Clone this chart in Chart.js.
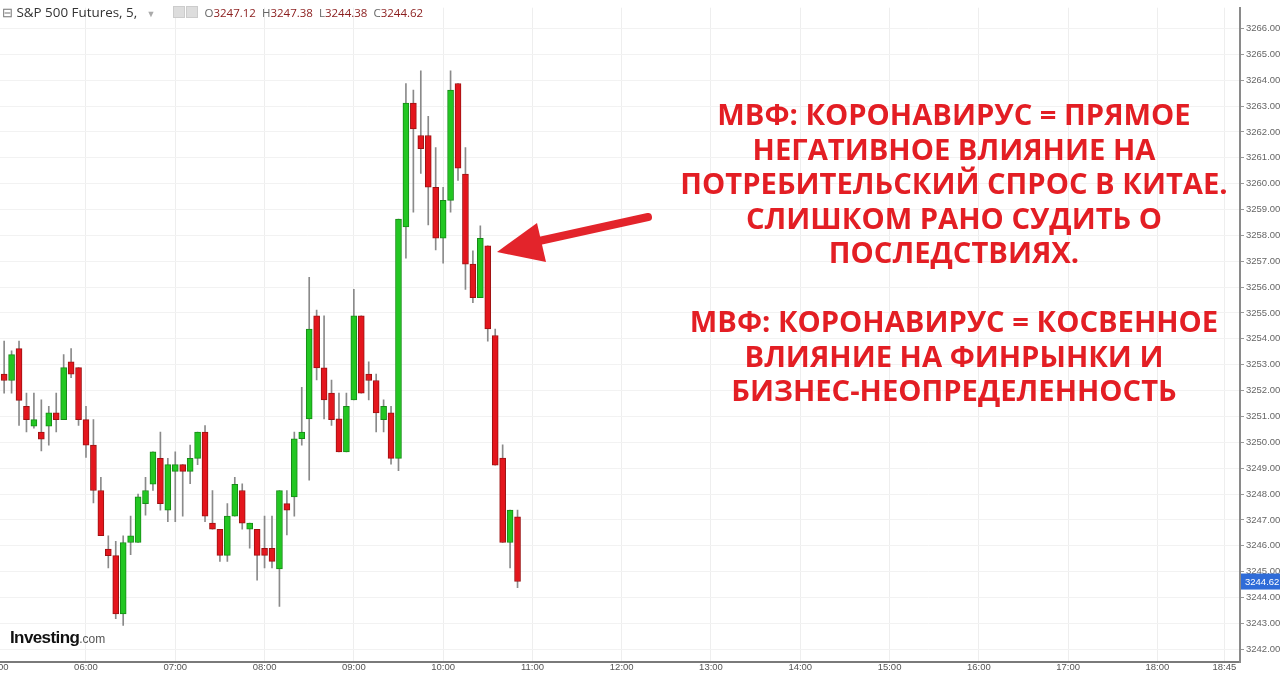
<!DOCTYPE html>
<html>
<head>
<meta charset="utf-8">
<script src="https://cdn.jsdelivr.net/npm/chart.js@4.4.1/dist/chart.umd.min.js"></script>
<style>
  html, body { margin: 0; padding: 0; background: #fff; overflow: hidden; }
  body { width: 1280px; height: 674px; position: relative; }
  #wrap { position: absolute; left: -20px; top: 0; width: 1300px; height: 674px; }
  #hdr { position: absolute; left: 2px; top: 3px; font: 13.4px "Open Sans", sans-serif; color: #333; white-space: nowrap; }
  #hdr .k { color: #666; margin-left: 6px; font-size: 11.5px; }
  #hdr .v { color: #8a1c1c; font-size: 11.5px; }
  #hdr .k:first-of-type { margin-left: 4px; }
  #hdr .ic { display: inline-block; width: 10px; height: 10px; background: #ddd; border: 1px solid #ccc; vertical-align: -1px; margin-right: 1px; }
  #hdr .dd { color: #aaa; font-size: 9px; margin: 0 17px 0 6px; }
  #logo { position: absolute; left: 10px; top: 628px; white-space: nowrap; }
  #logo b { font: bold 17px "Liberation Sans", Arial, sans-serif; color: #111; letter-spacing: -0.6px; }
  #logo span { font: 12px "Liberation Sans", Arial, sans-serif; color: #555; }
  #note { position: absolute; left: 604px; width: 700px; top: 97px; text-align: center;
          font: bold 29.2px "Open Sans", sans-serif; color: #e31e24; line-height: 34.5px; }
  #arrow { position: absolute; left: 0; top: 0; }
</style>
</head>
<body>
<div id="wrap"><canvas id="chart" width="1300" height="674"></canvas></div>
<div id="hdr"><span style="color:#777">&#8863;</span> S&amp;P 500 Futures, 5, <span class="dd">&#9660;</span><span class="ic"></span><span class="ic"></span><span class="k">O</span><span class="v">3247.12</span><span class="k">H</span><span class="v">3247.38</span><span class="k">L</span><span class="v">3244.38</span><span class="k">C</span><span class="v">3244.62</span></div>
<div id="logo"><b>Investing</b><span>.com</span></div>
<div id="note">МВФ: КОРОНАВИРУС = ПРЯМОЕ<br>НЕГАТИВНОЕ ВЛИЯНИЕ НА<br>ПОТРЕБИТЕЛЬСКИЙ СПРОС В КИТАЕ.<br>СЛИШКОМ РАНО СУДИТЬ О<br>ПОСЛЕДСТВИЯХ.<br><br>МВФ: КОРОНАВИРУС = КОСВЕННОЕ<br>ВЛИЯНИЕ НА ФИНРЫНКИ И<br>БИЗНЕС-НЕОПРЕДЕЛЕННОСТЬ</div>
<svg id="arrow" width="1280" height="674">
  <line x1="648" y1="217" x2="530" y2="243" stroke="#e3242b" stroke-width="8" stroke-linecap="round"/>
  <polygon points="497,252 537,223 546,262" fill="#e3242b"/>
</svg>
<script>
// 5-minute candles, S&P 500 futures
const times = [
    '05:05', '05:10', '05:15', '05:20', '05:25', '05:30', '05:35', '05:40', '05:45', '05:50',
    '05:55', '06:00', '06:05', '06:10', '06:15', '06:20', '06:25', '06:30', '06:35', '06:40',
    '06:45', '06:50', '06:55', '07:00', '07:05', '07:10', '07:15', '07:20', '07:25', '07:30',
    '07:35', '07:40', '07:45', '07:50', '07:55', '08:00', '08:05', '08:10', '08:15', '08:20',
    '08:25', '08:30', '08:35', '08:40', '08:45', '08:50', '08:55', '09:00', '09:05', '09:10',
    '09:15', '09:20', '09:25', '09:30', '09:35', '09:40', '09:45', '09:50', '09:55', '10:00',
    '10:05', '10:10', '10:15', '10:20', '10:25', '10:30', '10:35', '10:40', '10:45', '10:50'
];
const opens = [
    3252.64, 3252.39, 3253.62, 3251.39, 3250.63, 3250.40, 3250.63, 3251.14, 3250.88, 3253.11,
    3252.89, 3250.88, 3249.89, 3248.14, 3245.87, 3245.62, 3243.37, 3246.13, 3246.13, 3247.63,
    3248.38, 3249.38, 3247.38, 3248.88, 3249.14, 3248.88, 3249.38, 3250.40, 3246.88, 3246.64,
    3245.63, 3247.15, 3248.14, 3246.64, 3246.64, 3245.90, 3245.90, 3245.11, 3247.63, 3247.89,
    3250.14, 3250.91, 3254.89, 3252.88, 3251.90, 3250.91, 3249.63, 3251.64, 3254.89, 3252.64,
    3252.39, 3250.88, 3251.14, 3249.38, 3258.33, 3263.11, 3261.86, 3261.86, 3259.86, 3257.89,
    3259.35, 3263.87, 3260.37, 3256.89, 3255.59, 3257.60, 3254.13, 3249.39, 3246.13, 3247.12
];
const highs = [
    3253.91, 3253.54, 3253.91, 3251.90, 3251.90, 3251.64, 3251.39, 3251.90, 3253.39, 3253.62,
    3252.89, 3251.39, 3250.88, 3248.65, 3246.39, 3246.17, 3246.39, 3247.15, 3248.00, 3248.65,
    3249.63, 3250.40, 3249.38, 3249.63, 3249.14, 3249.89, 3250.40, 3250.65, 3248.14, 3246.64,
    3247.63, 3248.65, 3248.40, 3246.88, 3246.64, 3247.15, 3247.15, 3248.14, 3248.14, 3250.40,
    3252.13, 3256.38, 3255.11, 3254.89, 3252.41, 3251.90, 3251.90, 3255.91, 3254.89, 3253.11,
    3252.64, 3251.64, 3251.39, 3258.63, 3263.87, 3263.62, 3264.36, 3262.60, 3261.39, 3259.86,
    3264.36, 3263.87, 3261.39, 3257.40, 3258.37, 3257.60, 3254.38, 3249.90, 3247.38, 3247.38
];
const lows = [
    3251.90, 3251.90, 3250.65, 3250.40, 3250.55, 3249.67, 3249.89, 3250.40, 3250.88, 3252.50,
    3250.65, 3249.42, 3247.66, 3246.39, 3245.15, 3243.18, 3242.92, 3245.66, 3246.13, 3247.19,
    3248.14, 3247.38, 3246.93, 3246.93, 3247.15, 3248.40, 3249.14, 3246.93, 3246.64, 3245.40,
    3245.40, 3247.15, 3246.64, 3245.91, 3244.67, 3245.15, 3245.15, 3243.66, 3246.42, 3247.15,
    3249.89, 3248.54, 3252.41, 3250.91, 3250.65, 3249.63, 3249.63, 3251.64, 3251.90, 3251.64,
    3250.40, 3250.40, 3249.16, 3248.91, 3257.12, 3258.90, 3260.39, 3258.40, 3257.44, 3256.93,
    3258.90, 3260.12, 3255.91, 3255.40, 3255.59, 3253.91, 3249.12, 3246.13, 3245.15, 3244.38
];
const closes = [
    3252.39, 3253.39, 3251.62, 3250.88, 3250.88, 3250.12, 3251.14, 3250.88, 3252.89, 3252.64,
    3250.88, 3249.89, 3248.14, 3246.39, 3245.62, 3243.37, 3246.13, 3246.39, 3247.89, 3248.14,
    3249.63, 3247.63, 3249.14, 3249.14, 3248.88, 3249.38, 3250.40, 3247.15, 3246.64, 3245.63,
    3247.15, 3248.38, 3246.88, 3246.88, 3245.63, 3245.63, 3245.40, 3248.14, 3247.38, 3250.14,
    3250.40, 3254.38, 3252.88, 3251.64, 3250.88, 3249.63, 3251.39, 3254.89, 3251.90, 3252.39,
    3251.14, 3251.39, 3249.38, 3258.63, 3263.11, 3262.11, 3261.35, 3259.86, 3257.89, 3259.35,
    3263.62, 3260.60, 3256.89, 3255.59, 3257.89, 3254.38, 3249.12, 3246.13, 3247.38, 3244.62
];

// axis ticks (minutes after 05:00)
const xTickMinutes = [0, 60, 120, 180, 240, 300, 360, 420, 480, 540, 600, 660, 720, 780, 825];
const xTickLabels = ['05:00', '06:00', '07:00', '08:00', '09:00', '10:00', '11:00', '12:00',
    '13:00', '14:00', '15:00', '16:00', '17:00', '18:00', '18:45'];

const GREEN = '#22c722', GREEN_EDGE = '#178a17';
const RED = '#e4161d', RED_EDGE = '#9c1212';
const WICK = '#8a8a8a';

const toMinutes = s => {
    const [h, m] = s.split(':').map(Number);
    return (h - 5) * 60 + m;
};
const isUp = i => closes[i] >= opens[i];

const bodies = times.map((t, i) => ({ x: toMinutes(t), y: [opens[i], closes[i]] }));
const wicks = times.map((t, i) => ({ x: toMinutes(t), y: [lows[i], highs[i]] }));

// last price badge on the right axis
const lastPricePlugin = {
    id: 'lastPrice',
    afterDraw(chart) {
        const { ctx, chartArea } = chart;
        const yScale = chart.scales.y;
        const last = closes[closes.length - 1];
        const y = yScale.getPixelForValue(last);
        ctx.save();
        ctx.fillStyle = '#2f6cd8';
        ctx.fillRect(chartArea.right + 1, y - 8, 40, 16);
        ctx.fillStyle = '#fff';
        ctx.font = '9.5px "Liberation Sans", Arial, sans-serif';
        ctx.textBaseline = 'middle';
        ctx.fillText(last.toFixed(2), chartArea.right + 5, y + 0.5);
        ctx.restore();
    }
};

new Chart(document.getElementById('chart').getContext('2d'), {
    type: 'bar',
    data: {
        datasets: [
            {
                label: 'body',
                data: bodies,
                order: 0,
                grouped: false,
                barThickness: 6,
                borderWidth: 1,
                borderSkipped: false,
                minBarLength: 1,
                backgroundColor: c => isUp(c.dataIndex) ? GREEN : RED,
                borderColor: c => isUp(c.dataIndex) ? GREEN_EDGE : RED_EDGE,
            },
            {
                label: 'wick',
                data: wicks,
                order: 1,
                grouped: false,
                barThickness: 1,
                borderWidth: 0,
                backgroundColor: WICK,
            }
        ]
    },
    options: {
        responsive: false,
        animation: false,
        layout: { autoPadding: false, padding: { left: 16.7, right: 0, top: 0, bottom: 0 } },
        plugins: { legend: { display: false }, tooltip: { enabled: false } },
        scales: {
            x: {
                type: 'linear',
                min: 0,
                max: 835.5,
                offset: false,
                afterBuildTicks: s => { s.ticks = xTickMinutes.map(v => ({ value: v })); },
                afterFit: s => { s.height = 12; },
                ticks: {
                    autoSkip: false,
                    maxRotation: 0,
                    padding: 0,
                    color: '#555',
                    font: { size: 9.5, family: '"Liberation Sans", Arial, sans-serif' },
                    callback: (v, i) => xTickLabels[i],
                },
                grid: { offset: false, color: '#eeeeee', drawTicks: false },
                border: { color: '#7a7a7a', width: 2 },
            },
            y: {
                position: 'right',
                min: 3241.51,
                max: 3266.80,
                afterFit: s => { s.width = 40; },
                ticks: {
                    stepSize: 1,
                    includeBounds: false,
                    padding: 2,
                    color: '#666',
                    font: { size: 9.5, family: '"Liberation Sans", Arial, sans-serif' },
                    callback: v => v.toFixed(2),
                },
                grid: { color: '#f2f2f2', tickColor: '#999', tickLength: 4 },
                border: { color: '#8a8a8a', width: 2 },
            }
        }
    },
    plugins: [lastPricePlugin]
});
</script>
</body>
</html>
